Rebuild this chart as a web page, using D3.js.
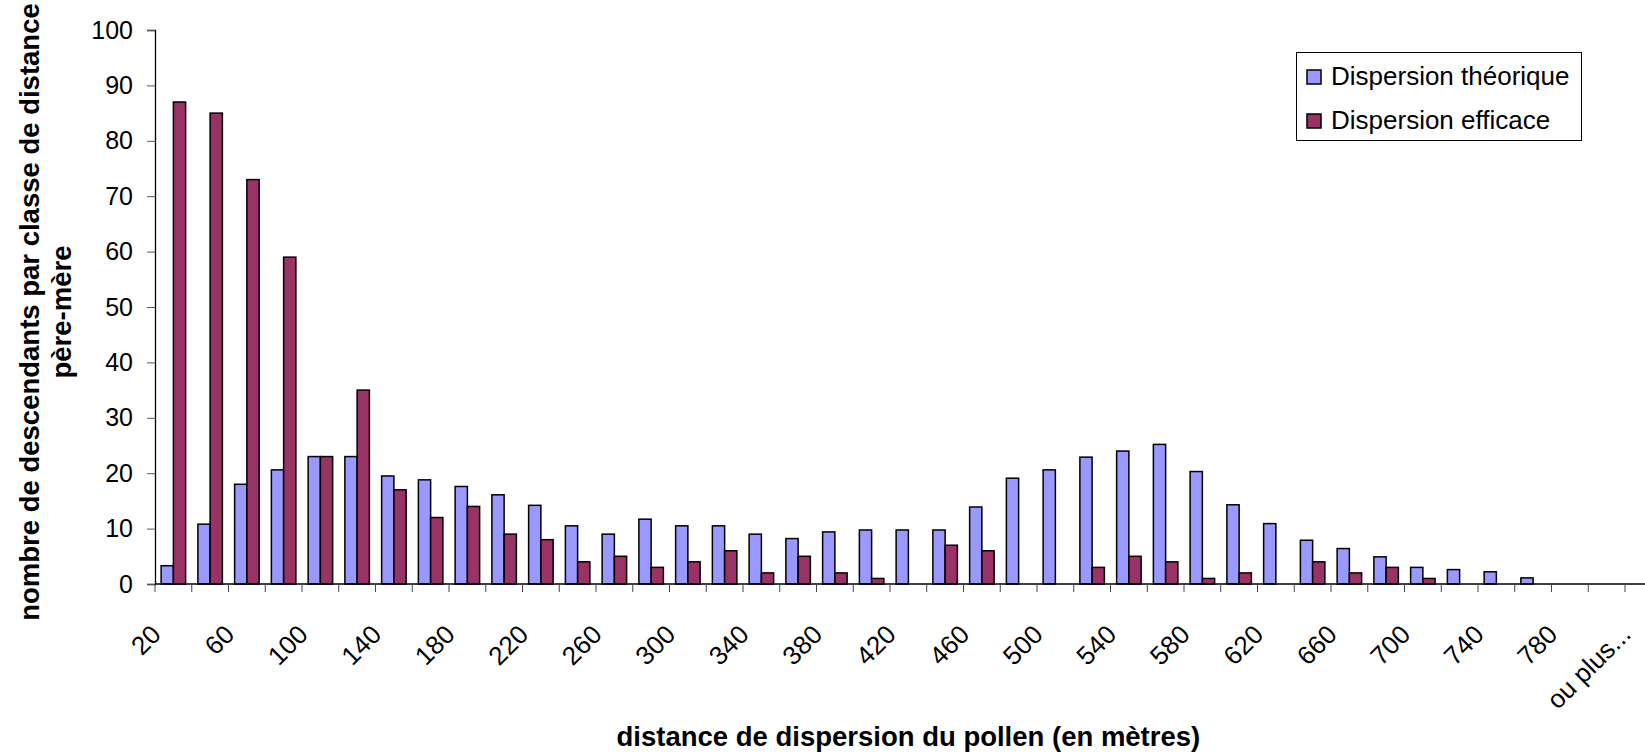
<!DOCTYPE html>
<html>
<head>
<meta charset="utf-8">
<script src="https://cdn.jsdelivr.net/npm/d3@7"></script>
<style>
  html, body { margin: 0; padding: 0; background: #fff; }
  svg { display: block; font-family: "Liberation Sans", Arial, sans-serif; }
</style>
</head>
<body>
<svg id="chart" width="1645" height="754"></svg>
<script>
  // data
  var CATEGORIES = ['20', '40', '60', '80', '100', '120', '140', '160', '180', '200',
    '220', '240', '260', '280', '300', '320', '340', '360', '380', '400',
    '420', '440', '460', '480', '500', '520', '540', '560', '580', '600',
    '620', '640', '660', '680', '700', '720', '740', '760', '780', '800', 'ou plus...']
  var THEORIQUE = [3.3, 10.8, 18, 20.6, 23, 23, 19.5, 18.8, 17.6, 16.1,
    14.2, 10.5, 9, 11.7, 10.5, 10.5, 9, 8.2, 9.4, 9.75,
    9.75, 9.75, 13.9, 19.1, 20.6, 22.9, 24, 25.2, 20.3, 14.3,
    10.9, 7.9, 6.4, 4.9, 3, 2.6, 2.2, 1.1, 0, 0, 0]
  var EFFICACE = [87, 85, 73, 59, 23, 35, 17, 12, 14, 9,
    8, 4, 5, 3, 4, 6, 2, 5, 2, 1,
    0, 7, 6, 0, 0, 3, 5, 4, 1, 2,
    0, 4, 2, 3, 1, 0, 0, 0, 0, 0, 0]
  var SERIES_NAMES = ['Dispersion théorique', 'Dispersion efficace']
  var Y_TICKS = [0, 10, 20, 30, 40, 50, 60, 70, 80, 90, 100]

  // constants
  var COLORS = ['#9999ff', '#993366']
  var LEFT = 155, TOP = 30, BOTTOM = 584, BAND = 36.75

  var svg = d3.select('#chart')

  var x = d3.scaleBand()
    .domain(CATEGORIES)
    .range([LEFT, LEFT + CATEGORIES.length * BAND])
  var sub = d3.scaleBand()
    .domain([0, 1])
    .range([0, x.bandwidth()])
    .paddingInner(0)
    .paddingOuter(0.5)   // gap width 100%
  var y = d3.scaleLinear().domain([0, 100]).range([BOTTOM, TOP])

  // bars, one group per series (zero values are not drawn)
  var series = [THEORIQUE, EFFICACE]
  series.forEach(function (values, s) {
    var points = values
      .map(function (v, i) { return { cat: CATEGORIES[i], value: v } })
      .filter(function (d) { return d.value > 0 })
    svg.append('g')
      .selectAll('rect')
      .data(points)
      .enter()
      .append('rect')
      .attr('x', function (d) { return x(d.cat) + sub(s) })
      .attr('y', function (d) { return y(d.value) })
      .attr('width', sub.bandwidth())
      .attr('height', function (d) { return BOTTOM - y(d.value) })
      .attr('fill', COLORS[s])
      .attr('stroke', '#000')
      .attr('stroke-width', 1.5)
  })

  // y axis
  var yAxis = d3.axisLeft(y).tickValues(Y_TICKS).tickSize(8).tickPadding(14)
  var gy = svg.append('g')
    .attr('transform', 'translate(' + LEFT + ',0)')
    .call(yAxis)
  gy.select('.domain').attr('stroke', '#000').attr('stroke-width', 1.3)
  gy.selectAll('.tick line').attr('stroke', '#555')
  gy.selectAll('.tick text')
    .attr('font-size', 25)
    .attr('fill', '#000')
    .attr('font-family', '"Liberation Sans", Arial, sans-serif')

  // x axis (ticks on category boundaries)
  var gx = svg.append('g')
  gx.append('line')
    .attr('x1', LEFT).attr('x2', 1645)
    .attr('y1', BOTTOM).attr('y2', BOTTOM)
    .attr('stroke', '#000').attr('stroke-width', 1.3)
  gx.selectAll('line.tk')
    .data(CATEGORIES)
    .enter()
    .append('line')
    .attr('class', 'tk')
    .attr('x1', function (d) { return x(d) })
    .attr('x2', function (d) { return x(d) })
    .attr('y1', BOTTOM).attr('y2', BOTTOM + 8)
    .attr('stroke', '#444')
  gx.selectAll('text')
    .data(CATEGORIES.filter(function (d, i) { return i % 2 === 0 }))
    .enter()
    .append('text')
    .attr('transform', function (d) {
      return 'translate(' + (x(d) + x.bandwidth() / 2 - 11) + ',636) rotate(-45)'
    })
    .attr('text-anchor', 'end')
    .attr('font-size', 26)
    .text(function (d) { return d })

  // axis titles
  svg.append('text')
    .attr('x', (LEFT + LEFT + CATEGORIES.length * BAND) / 2)
    .attr('y', 746)
    .attr('text-anchor', 'middle')
    .attr('font-size', 27.5)
    .attr('font-weight', 'bold')
    .text('distance de dispersion du pollen (en mètres)')

  var yTitle = svg.append('text')
    .attr('transform', 'translate(39,' + ((TOP + BOTTOM) / 2 + 5) + ') rotate(-90)')
    .attr('text-anchor', 'middle')
    .attr('font-size', 27.5)
    .attr('font-weight', 'bold')
  yTitle.append('tspan').attr('x', 0).attr('y', 0)
    .text('nombre de descendants par classe de distance')
  yTitle.append('tspan').attr('x', 0).attr('y', 32)
    .text('père-mère')

  // legend
  var legend = svg.append('g')
  legend.append('rect')
    .attr('x', 1296.5).attr('y', 52.5)
    .attr('width', 285).attr('height', 88)
    .attr('fill', '#fff').attr('stroke', '#000').attr('stroke-width', 1)
  SERIES_NAMES.forEach(function (name, i) {
    legend.append('rect')
      .attr('x', 1307).attr('y', 70 + i * 44)
      .attr('width', 14).attr('height', 14)
      .attr('fill', COLORS[i]).attr('stroke', '#000').attr('stroke-width', 1.5)
    legend.append('text')
      .attr('x', 1331).attr('y', 85 + i * 44)
      .attr('font-size', 26)
      .text(name)
  })
</script>
</body>
</html>
